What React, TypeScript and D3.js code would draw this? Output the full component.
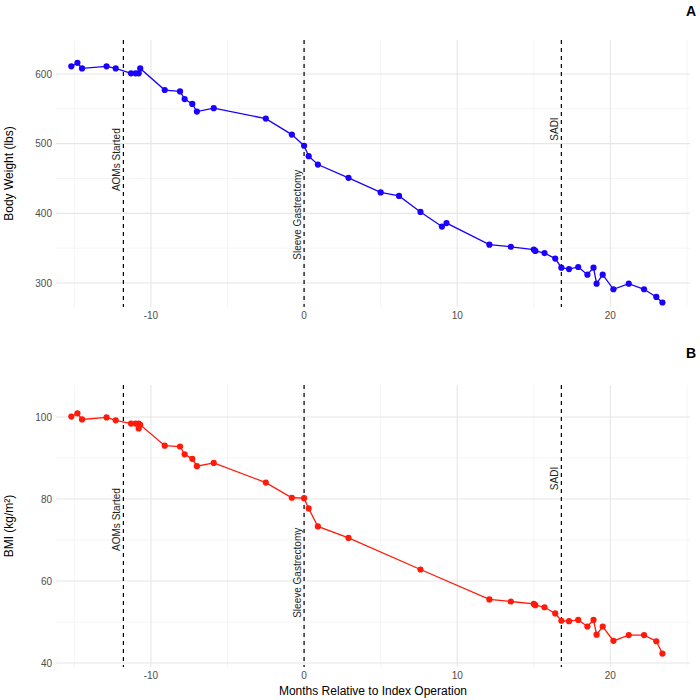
import * as d3 from "d3";

const weightMonths = [-15.2, -14.8, -14.5, -12.9, -12.3, -11.3, -11.0, -10.8, -10.7, -9.1, -8.1, -7.8, -7.3, -7.0, -5.9, -2.5, -0.8, 0, 0.3, 0.9, 2.9, 5.0, 6.2, 7.6, 9.0, 9.3, 12.1, 13.5, 15.0, 15.1, 15.7, 16.4, 16.8, 17.3, 17.9, 18.5, 18.9, 19.1, 19.5, 20.2, 21.2, 22.2, 23.0, 23.4];
const weightLbs = [611, 616, 608, 611, 608, 601, 601, 601, 608, 577, 575, 564, 557, 546, 551, 536, 513, 497, 482, 470, 451, 430, 425, 402, 381, 386, 355, 352, 348, 346, 343, 335, 322, 320, 323, 312, 322, 299, 312, 291, 299, 291, 280, 272];

const bmiMonths = [-15.2, -14.8, -14.5, -12.9, -12.3, -11.3, -11.0, -10.8, -10.8, -10.7, -9.1, -8.1, -7.8, -7.3, -7.0, -5.9, -2.5, -0.8, 0, 0.3, 0.9, 2.9, 7.6, 12.1, 13.5, 15.0, 15.1, 15.7, 16.4, 16.8, 17.3, 17.9, 18.5, 18.9, 19.1, 19.5, 20.2, 21.2, 22.2, 23.0, 23.4];
const bmiValues = [100.1, 100.9, 99.4, 99.9, 99.2, 98.4, 98.4, 98.4, 97.2, 98.1, 93.0, 92.8, 90.9, 89.8, 88.0, 88.8, 84.0, 80.3, 80.2, 77.7, 73.3, 70.5, 62.8, 55.5, 55.0, 54.4, 54.1, 53.6, 52.1, 50.3, 50.2, 50.5, 48.9, 50.5, 46.9, 48.9, 45.4, 46.8, 46.8, 45.3, 42.3];

const eventMonths = [-11.8, 0, 16.8];
const eventNames = ["AOMs Started", "Sleeve Gastrectomy", "SADI"];
const weightLabelY = [477, 398, 521];
const bmiLabelY = [75, 62, 85];

const xTicks = [-10, 0, 10, 20];
const xMinor = [-15, -5, 5, 15, 25];
const weightTicks = [300, 400, 500, 600];
const weightMinor = [250, 350, 450, 550, 650];
const bmiTicks = [40, 60, 80, 100];
const bmiMinor = [50, 70, 90];

const LEFT = 56;
const RIGHT = 690;
const x = d3.scaleLinear().domain([-16.2, 25.2]).range([LEFT, RIGHT]);

interface PanelProps {
  months: number[];
  values: number[];
  y: d3.ScaleLinear<number, number>;
  ticks: number[];
  minor: number[];
  labelY: number[];
  color: string;
  title: string;
  tag: string;
  tagY: number;
  top: number;
  bottom: number;
}

function Panel({ months, values, y, ticks, minor, labelY, color, title, tag, tagY, top, bottom }: PanelProps) {
  const pts = months.map((m, i) => [x(m), y(values[i])] as [number, number]);
  const line = d3.line();
  return (
    <g>
      {minor.map((t) => (
        <line key={"hm" + t} x1={LEFT} x2={RIGHT} y1={y(t)} y2={y(t)} stroke="#efefef" strokeWidth={0.6} />
      ))}
      {xMinor.map((t) => (
        <line key={"vm" + t} x1={x(t)} x2={x(t)} y1={top} y2={bottom} stroke="#efefef" strokeWidth={0.6} />
      ))}
      {ticks.map((t) => (
        <line key={"h" + t} x1={LEFT} x2={RIGHT} y1={y(t)} y2={y(t)} stroke="#e6e6e6" strokeWidth={1.1} />
      ))}
      {xTicks.map((t) => (
        <line key={"v" + t} x1={x(t)} x2={x(t)} y1={top} y2={bottom} stroke="#e6e6e6" strokeWidth={1.1} />
      ))}
      {ticks.map((t) => (
        <text key={"t" + t} x={LEFT - 4} y={y(t)} dy="0.35em" textAnchor="end" fontSize={10} fill="#4d4d4d">{t}</text>
      ))}
      {xTicks.map((t) => (
        <text key={"xt" + t} x={x(t)} y={bottom + 12} textAnchor="middle" fontSize={10} fill="#4d4d4d">{t}</text>
      ))}
      <text transform={`translate(13,${(top + bottom) / 2}) rotate(-90)`} textAnchor="middle" fontSize={12}>{title}</text>
      <text x={696} y={tagY} textAnchor="end" fontSize={14} fontWeight="bold">{tag}</text>
      {eventMonths.map((m, i) => (
        <g key={"e" + i}>
          <line x1={x(m)} x2={x(m)} y1={top} y2={bottom} stroke="#000" strokeWidth={1.2} strokeDasharray="4,4" />
          <text transform={`translate(${x(m) - 3},${y(labelY[i])}) rotate(-90)`} textAnchor="middle" fontSize={10} fill="#222">{eventNames[i]}</text>
        </g>
      ))}
      <path d={line(pts) ?? ""} fill="none" stroke={color} strokeWidth={1.3} />
      {pts.map((p, i) => (
        <circle key={"p" + i} cx={p[0]} cy={p[1]} r={3.1} fill={color} />
      ))}
    </g>
  );
}

export default function App() {
  const yW = d3.scaleLinear().domain([300, 600]).range([283, 74]);
  const yB = d3.scaleLinear().domain([40, 100]).range([663, 417]);
  return (
    <svg width={700} height={700} style={{ position: "absolute", left: 0, top: 0, fontFamily: "Liberation Sans, Arial, sans-serif" }}>
      <rect width={700} height={700} fill="#fff" />
      <Panel months={weightMonths} values={weightLbs} y={yW} ticks={weightTicks} minor={weightMinor.filter((v) => yW(v) > 40 && yW(v) < 307)}
        labelY={weightLabelY} color="#1a00ff" title="Body Weight (lbs)" tag="A" tagY={16} top={40} bottom={307} />
      <Panel months={bmiMonths} values={bmiValues} y={yB} ticks={bmiTicks} minor={bmiMinor}
        labelY={bmiLabelY} color="#ff1a0a" title="BMI (kg/m²)" tag="B" tagY={358} top={385} bottom={667} />
      <text x={373} y={695} textAnchor="middle" fontSize={12}>Months Relative to Index Operation</text>
    </svg>
  );
}
